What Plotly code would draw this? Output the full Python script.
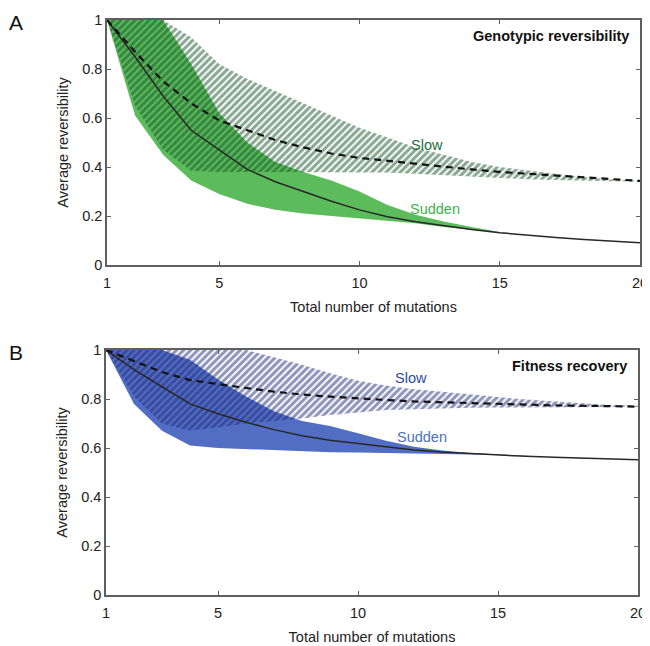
import plotly.graph_objects as go

mutations = list(range(1, 21))
x_ticks = [1, 5, 10, 15, 20]
y_ticks = [0, 0.2, 0.4, 0.6, 0.8, 1]
y_tick_labels = ["0", "0.2", "0.4", "0.6", "0.8", "1"]

# Panel A: genotypic reversibility
geno_sudden_mean = [1.0, 0.85, 0.69, 0.55, 0.47, 0.39, 0.34, 0.30, 0.26, 0.225,
                    0.197, 0.177, 0.16, 0.145, 0.132, 0.121, 0.112, 0.104, 0.097, 0.091]
geno_sudden_low = [1.0, 0.61, 0.45, 0.345, 0.29, 0.25, 0.225, 0.21, 0.20, 0.19,
                   0.18, 0.17, 0.155, 0.143, 0.132, 0.121, 0.112, 0.104, 0.097, 0.091]
geno_sudden_high = [1.0, 1.0, 1.0, 0.82, 0.62, 0.50, 0.42, 0.38, 0.345, 0.30,
                    0.245, 0.205, 0.178, 0.155, 0.135, 0.121, 0.112, 0.104, 0.097, 0.091]
geno_slow_mean = [1.0, 0.87, 0.75, 0.66, 0.59, 0.55, 0.51, 0.48, 0.455, 0.437,
                  0.425, 0.413, 0.40, 0.39, 0.38, 0.372, 0.364, 0.356, 0.349, 0.343]
geno_slow_low = [1.0, 0.65, 0.47, 0.385, 0.38, 0.38, 0.38, 0.38, 0.38, 0.38,
                 0.378, 0.372, 0.366, 0.36, 0.355, 0.35, 0.347, 0.344, 0.342, 0.341]
geno_slow_high = [1.0, 1.0, 1.0, 0.93, 0.82, 0.76, 0.71, 0.66, 0.61, 0.56,
                  0.52, 0.48, 0.45, 0.42, 0.40, 0.385, 0.37, 0.358, 0.349, 0.344]

# Panel B: fitness recovery
fit_sudden_mean = [1.0, 0.92, 0.85, 0.78, 0.74, 0.705, 0.675, 0.65, 0.632, 0.618,
                   0.605, 0.592, 0.584, 0.577, 0.571, 0.566, 0.562, 0.558, 0.555, 0.552]
fit_sudden_low = [1.0, 0.78, 0.67, 0.61, 0.60, 0.595, 0.59, 0.585, 0.583, 0.582,
                  0.58, 0.578, 0.576, 0.574, 0.571, 0.566, 0.562, 0.558, 0.555, 0.552]
fit_sudden_high = [1.0, 1.0, 1.0, 0.96, 0.88, 0.81, 0.75, 0.71, 0.69, 0.66,
                   0.63, 0.605, 0.59, 0.58, 0.574, 0.566, 0.562, 0.558, 0.555, 0.552]
fit_slow_mean = [1.0, 0.955, 0.91, 0.877, 0.86, 0.845, 0.83, 0.818, 0.81, 0.802,
                 0.796, 0.79, 0.786, 0.783, 0.78, 0.777, 0.774, 0.772, 0.77, 0.769]
fit_slow_low = [1.0, 0.81, 0.70, 0.67, 0.685, 0.70, 0.71, 0.72, 0.735, 0.745,
                0.755, 0.758, 0.762, 0.764, 0.765, 0.766, 0.767, 0.767, 0.767, 0.767]
fit_slow_high = [1.0, 1.0, 1.0, 1.0, 1.0, 1.0, 0.97, 0.94, 0.905, 0.875,
                 0.855, 0.84, 0.83, 0.818, 0.808, 0.798, 0.79, 0.782, 0.776, 0.772]

W, H, OFF = 650, 646, 8  # page body margin offsets the figure by 8px


def px(x):
    return (x - OFF) / W


def py(y):
    return 1 - (y - OFF) / H


panels = [
    dict(xa="x", ya="y", sm=geno_sudden_mean, sl=geno_sudden_low, sh=geno_sudden_high,
         wm=geno_slow_mean, wl=geno_slow_low, wh=geno_slow_high,
         fill="rgb(92,188,92)", hatch="rgb(20,82,38)"),
    dict(xa="x2", ya="y2", sm=fit_sudden_mean, sl=fit_sudden_low, sh=fit_sudden_high,
         wm=fit_slow_mean, wl=fit_slow_low, wh=fit_slow_high,
         fill="rgb(82,110,196)", hatch="rgb(32,42,122)"),
]

fig = go.Figure()
for p in panels:
    # Sudden band (solid)
    fig.add_trace(go.Scatter(x=mutations, y=p["sl"], xaxis=p["xa"], yaxis=p["ya"],
                             mode="lines", line=dict(width=0), showlegend=False, hoverinfo="skip"))
    fig.add_trace(go.Scatter(x=mutations, y=p["sh"], xaxis=p["xa"], yaxis=p["ya"],
                             mode="lines", line=dict(width=0), fill="tonexty",
                             fillcolor=p["fill"], showlegend=False, hoverinfo="skip"))
    # Slow band (hatched)
    fig.add_trace(go.Scatter(x=mutations, y=p["wl"], xaxis=p["xa"], yaxis=p["ya"],
                             mode="lines", line=dict(width=0), showlegend=False, hoverinfo="skip"))
    fig.add_trace(go.Scatter(x=mutations, y=p["wh"], xaxis=p["xa"], yaxis=p["ya"],
                             mode="lines", line=dict(width=0), fill="tonexty",
                             fillcolor="rgba(0,0,0,0)",
                             fillpattern=dict(shape="/", fgcolor=p["hatch"],
                                              bgcolor="rgba(255,255,255,0)",
                                              size=5, solidity=0.62, fillmode="overlay"),
                             showlegend=False, hoverinfo="skip"))
    # Mean lines
    fig.add_trace(go.Scatter(x=mutations, y=p["sm"], xaxis=p["xa"], yaxis=p["ya"],
                             mode="lines", line=dict(color="rgb(40,40,40)", width=1.5),
                             showlegend=False))
    fig.add_trace(go.Scatter(x=mutations, y=p["wm"], xaxis=p["xa"], yaxis=p["ya"],
                             mode="lines", line=dict(color="rgb(20,20,20)", width=2.2, dash="7px,5px"),
                             showlegend=False))

font_family = "Liberation Sans, Arial, sans-serif"
axis_common = dict(showgrid=False, zeroline=False, showline=True, linecolor="rgb(95,95,95)",
                   linewidth=1.5, mirror="ticks", ticks="inside", ticklen=4, automargin=False,
                   tickcolor="rgb(95,95,95)", tickfont=dict(size=14.5, color="#222"))
fig.update_layout(
    template="none",
    width=W, height=H, margin=dict(l=0, r=0, t=0, b=0, autoexpand=False),
    paper_bgcolor="white", plot_bgcolor="white",
    font=dict(family=font_family, color="#222"),
    xaxis=dict(domain=[px(107), px(640)], anchor="y", range=[1, 20], tickvals=x_ticks,
               ticklabelstandoff=4,
               title=dict(text="Total number of mutations", font=dict(size=14.5), standoff=12),
               **axis_common),
    yaxis=dict(domain=[py(265), py(20)], anchor="x", range=[0, 1],
               tickvals=y_ticks, ticktext=y_tick_labels,
               title=dict(text="Average reversibility", font=dict(size=14.5), standoff=10),
               **axis_common),
    xaxis2=dict(domain=[px(106), px(638)], anchor="y2", range=[1, 20], tickvals=x_ticks,
                ticklabelstandoff=4,
                title=dict(text="Total number of mutations", font=dict(size=14.5), standoff=12),
                **axis_common),
    yaxis2=dict(domain=[py(595), py(350)], anchor="x2", range=[0, 1],
                tickvals=y_ticks, ticktext=y_tick_labels,
                title=dict(text="Average reversibility", font=dict(size=14.5), standoff=10),
                **axis_common),
)

annotations = [
    dict(text="A", x=px(16), y=py(22), xref="paper", yref="paper",
         showarrow=False, font=dict(size=21, color="#111"), xanchor="center", yanchor="middle"),
    dict(text="B", x=px(16), y=py(352), xref="paper", yref="paper",
         showarrow=False, font=dict(size=21, color="#111"), xanchor="center", yanchor="middle"),
    dict(text="<b>Genotypic reversibility</b>", x=0.983, y=0.975, xref="x domain", yref="y domain",
         showarrow=False, xanchor="right", yanchor="top", font=dict(size=14.5, color="#111")),
    dict(text="<b>Fitness recovery</b>", x=0.983, y=0.975, xref="x2 domain", yref="y2 domain",
         showarrow=False, xanchor="right", yanchor="top", font=dict(size=14.5, color="#111")),
    dict(text="Slow", x=12.4, y=0.49, xref="x", yref="y", showarrow=False,
         font=dict(size=14.5, color="rgb(30,110,58)")),
    dict(text="Sudden", x=12.7, y=0.23, xref="x", yref="y", showarrow=False,
         font=dict(size=14.5, color="rgb(60,180,75)")),
    dict(text="Slow", x=11.9, y=0.885, xref="x2", yref="y2", showarrow=False,
         font=dict(size=14.5, color="rgb(47,74,156)")),
    dict(text="Sudden", x=12.3, y=0.645, xref="x2", yref="y2", showarrow=False,
         font=dict(size=14.5, color="rgb(74,112,192)")),
]
fig.update_layout(annotations=annotations)

fig.write_html("out.html")
